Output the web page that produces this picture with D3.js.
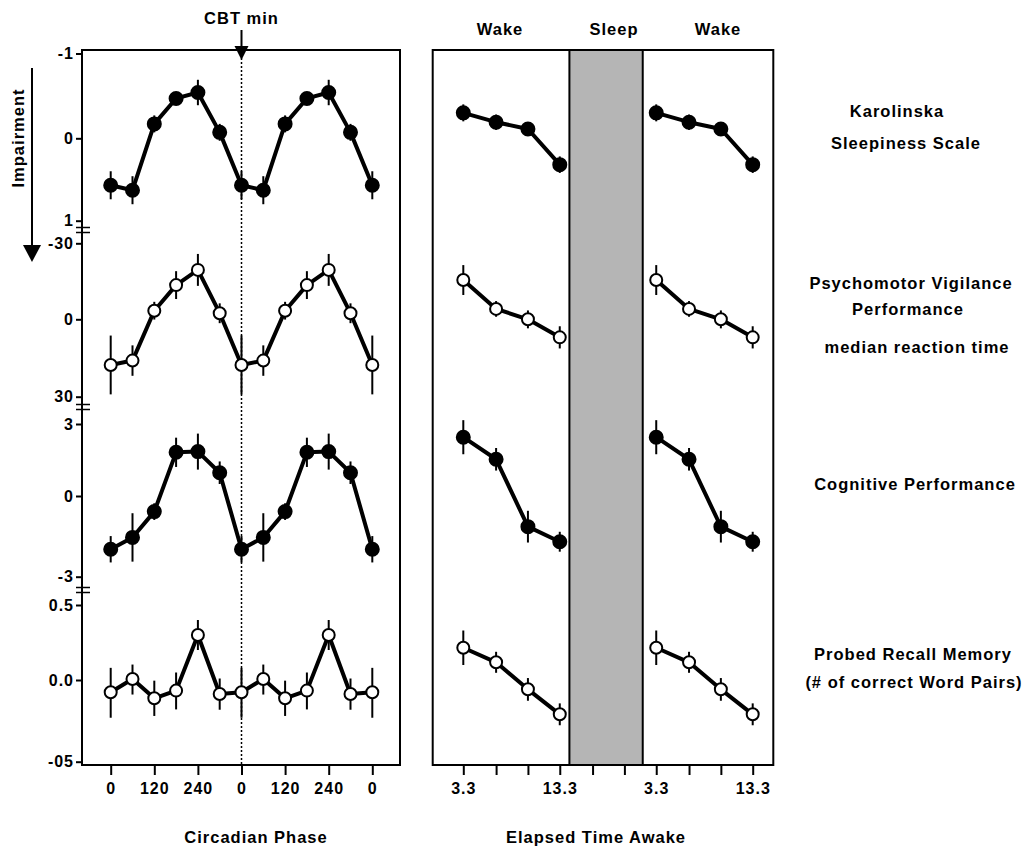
<!DOCTYPE html>
<html>
<head>
<meta charset="utf-8">
<script src="https://cdn.jsdelivr.net/npm/d3@7"></script>
<style>
    body { margin: 0; background: #fff; }
    svg text {
        font-family: "Liberation Sans", Arial, Helvetica, sans-serif;
        font-weight: bold;
        fill: #000;
        letter-spacing: 1px;
    }
</style>
</head>
<body>
<div id="chart"></div>
<script>
// circadian phase (degrees, double plotted)
const phases = [0, 60, 120, 180, 240, 300, 360, 420, 480, 540, 600, 660, 720];
const phaseTicks = [0, 120, 240, 360, 480, 600, 720];
const phaseTickLabels = ["0", "120", "240", "0", "120", "240", "0"];

// elapsed time awake (hours on a running clock, sleep in between)
const awakeTicks = [3.3, 6.7, 10, 13.3, 16.7, 20, 23.3, 26.7, 30, 33.3];
const awakeTickLabels = ["3.3", "", "", "13.3", "", "", "3.3", "", "", "13.3"];
const wake1Hours = [3.3, 6.7, 10, 13.3];
const wake2Hours = [23.3, 26.7, 30, 33.3];
const sleepSpan = [14.3, 21.9];

// Karolinska Sleepiness Scale
const kssPhase = [0.57, 0.63, -0.17, -0.47, -0.54, -0.07, 0.57, 0.63, -0.17, -0.47, -0.54, -0.07, 0.57];
const kssPhaseErr = [0.17, 0.17, 0.10, 0.07, 0.15, 0.10, 0.17, 0.17, 0.10, 0.07, 0.15, 0.10, 0.17];
const kssAwake = [-0.30, -0.19, -0.11, 0.32];
const kssAwakeErr = [0.10, 0.09, 0.05, 0.10];

// Psychomotor vigilance, median reaction time
const pvtPhase = [17.7, 16.0, -3.4, -13.5, -19.5, -2.4, 17.7, 16.0, -3.4, -13.5, -19.5, -2.4, 17.7];
const pvtPhaseErr = [11.4, 5.9, 3.5, 5.5, 6.3, 3.9, 11.4, 5.9, 3.5, 5.5, 6.3, 3.9, 11.4];
const pvtAwake = [-15.5, -4.1, 0.0, 7.0];
const pvtAwakeErr = [5.9, 3.1, 3.5, 4.3];

// Cognitive performance
const cogPhase = [-1.98, -1.54, -0.58, 1.82, 1.85, 0.97, -1.98, -1.54, -0.58, 1.82, 1.85, 0.97, -1.98];
const cogPhaseErr = [0.49, 0.90, 0.31, 0.61, 0.75, 0.47, 0.49, 0.90, 0.31, 0.61, 0.75, 0.47, 0.49];
const cogAwake = [2.45, 1.53, -1.14, -1.70];
const cogAwakeErr = [0.71, 0.47, 0.59, 0.37];

// Probed recall memory
const memPhase = [-0.075, 0.007, -0.112, -0.065, 0.30, -0.086, -0.075, 0.007, -0.112, -0.065, 0.30, -0.086, -0.075];
const memPhaseErr = [0.156, 0.096, 0.108, 0.115, 0.10, 0.096, 0.156, 0.096, 0.108, 0.115, 0.10, 0.096, 0.156];
const memAwake = [0.215, 0.118, -0.057, -0.21];
const memAwakeErr = [0.115, 0.07, 0.07, 0.067];

const measures = [
    { ticks: [-1, 0, 1], labels: ["-1", "0", "1"], range: [53.5, 138.3, 220.7], filled: true,
      phase: kssPhase, phaseErr: kssPhaseErr, awake: kssAwake, awakeErr: kssAwakeErr,
      title: [["Karolinska", 897, 111], ["Sleepiness Scale", 906, 143]] },
    { ticks: [-30, 0, 30], labels: ["-30", "0", "30"], range: [243.3, 319.3, 396.7], filled: false,
      phase: pvtPhase, phaseErr: pvtPhaseErr, awake: pvtAwake, awakeErr: pvtAwakeErr,
      title: [["Psychomotor Vigilance", 911, 283], ["Performance", 908, 309], ["median reaction time", 917, 347]] },
    { ticks: [3, 0, -3], labels: ["3", "0", "-3"], range: [424, 496, 576.7], filled: true,
      phase: cogPhase, phaseErr: cogPhaseErr, awake: cogAwake, awakeErr: cogAwakeErr,
      title: [["Cognitive Performance", 915, 484]] },
    { ticks: [0.5, 0, -0.5], labels: ["0.5", "0.0", "-05"], range: [605, 680, 761.7], filled: false,
      phase: memPhase, phaseErr: memPhaseErr, awake: memAwake, awakeErr: memAwakeErr,
      title: [["Probed Recall Memory", 913, 654], ["(# of correct Word Pairs)", 914, 682]] }
];
const breaks = [230, 407, 590];

const width = 1024, height = 846;
const frameTop = 50, frameBottom = 765;
const left1 = 82, right1 = 400;
const left2 = 432.7, right2 = 773.3;

const svg = d3.select("#chart")
    .append("svg")
    .attr("width", width)
    .attr("height", height);

const xPhase = d3.scaleLinear().domain([0, 720]).range([110.7, 372.3]);
const xAwake = d3.scaleLinear().domain([3.3, 33.3]).range([463.3, 752.7]);

// sleep band
svg.append("rect")
    .attr("x", xAwake(sleepSpan[0]))
    .attr("y", frameTop)
    .attr("width", xAwake(sleepSpan[1]) - xAwake(sleepSpan[0]))
    .attr("height", frameBottom - frameTop)
    .attr("fill", "#b5b5b5")
    .attr("stroke", "#000")
    .attr("stroke-width", 2);

// frames
[[left1, right1], [left2, right2]].forEach(([l, r]) => {
    svg.append("rect")
        .attr("x", l).attr("y", frameTop)
        .attr("width", r - l).attr("height", frameBottom - frameTop)
        .attr("fill", "none")
        .attr("stroke", "#000")
        .attr("stroke-width", 2);
});

// CBT min dotted line + arrow
const cbtX = xPhase(360);
svg.append("line")
    .attr("x1", cbtX).attr("x2", cbtX)
    .attr("y1", 58).attr("y2", frameBottom)
    .attr("stroke", "#000")
    .attr("stroke-width", 1.5)
    .attr("stroke-dasharray", "2,2");
svg.append("line")
    .attr("x1", cbtX).attr("x2", cbtX)
    .attr("y1", 30).attr("y2", 48)
    .attr("stroke", "#000").attr("stroke-width", 2);
svg.append("path")
    .attr("d", `M${cbtX - 7},46 L${cbtX + 7},46 L${cbtX},60 Z`)
    .attr("fill", "#000");
svg.append("text")
    .attr("x", cbtX).attr("y", 24)
    .attr("text-anchor", "middle")
    .style("font-size", "16.5px")
    .text("CBT min");

// Impairment arrow
svg.append("line")
    .attr("x1", 32).attr("x2", 32)
    .attr("y1", 68).attr("y2", 248)
    .attr("stroke", "#000").attr("stroke-width", 2);
svg.append("path")
    .attr("d", "M23,245 L41,245 L32,262 Z")
    .attr("fill", "#000");
svg.append("text")
    .attr("transform", "translate(24,138) rotate(-90)")
    .attr("text-anchor", "middle")
    .style("font-size", "16.5px")
    .text("Impairment");

// x axes
const phaseAxis = svg.append("g")
    .attr("transform", `translate(0,${frameBottom})`)
    .call(d3.axisBottom(xPhase).tickValues(phaseTicks)
        .tickFormat((d, i) => phaseTickLabels[i])
        .tickSizeInner(10).tickSizeOuter(0).tickPadding(8));
const awakeAxis = svg.append("g")
    .attr("transform", `translate(0,${frameBottom})`)
    .call(d3.axisBottom(xAwake).tickValues(awakeTicks)
        .tickFormat((d, i) => awakeTickLabels[i])
        .tickSizeInner(10).tickSizeOuter(0).tickPadding(8));
[phaseAxis, awakeAxis].forEach(a => {
    a.select(".domain").remove();
    a.selectAll(".tick line").attr("stroke-width", 2);
    a.selectAll("text").style("font-size", "16px");
    a.attr("font-family", null).attr("font-size", null);
});

// axis titles
svg.append("text").attr("x", 256).attr("y", 843)
    .attr("text-anchor", "middle").style("font-size", "16.5px").text("Circadian Phase");
svg.append("text").attr("x", 596).attr("y", 843)
    .attr("text-anchor", "middle").style("font-size", "16.5px").text("Elapsed Time Awake");

// Wake / Sleep headers
[["Wake", 500], ["Sleep", 614], ["Wake", 718]].forEach(([t, x]) => {
    svg.append("text").attr("x", x).attr("y", 35)
        .attr("text-anchor", "middle").style("font-size", "16.5px").text(t);
});

function drawSeries(xs, vals, errs, y, filled) {
    const pts = xs.map((x, i) => ({ x: x, v: vals[i], e: errs[i] }));
    const g = svg.append("g");
    g.selectAll(".err")
        .data(pts)
        .enter()
        .append("line")
        .attr("x1", d => d.x).attr("x2", d => d.x)
        .attr("y1", d => y(d.v - d.e)).attr("y2", d => y(d.v + d.e))
        .attr("stroke", "#000")
        .attr("stroke-width", 2);
    g.append("path")
        .datum(pts)
        .attr("d", d3.line().x(d => d.x).y(d => y(d.v)))
        .attr("fill", "none")
        .attr("stroke", "#000")
        .attr("stroke-width", 4)
        .attr("stroke-linejoin", "round");
    g.selectAll(".pt")
        .data(pts)
        .enter()
        .append("circle")
        .attr("cx", d => d.x)
        .attr("cy", d => y(d.v))
        .attr("r", filled ? 6.5 : 6)
        .attr("fill", filled ? "#000" : "#fff")
        .attr("stroke", "#000")
        .attr("stroke-width", 2);
}

measures.forEach(m => {
    const y = d3.scaleLinear().domain(m.ticks).range(m.range);

    const ax = svg.append("g")
        .attr("transform", `translate(${left1},0)`)
        .call(d3.axisLeft(y).tickValues(m.ticks)
            .tickFormat((d, i) => m.labels[i])
            .tickSizeInner(6).tickSizeOuter(0).tickPadding(2));
    ax.select(".domain").remove();
    ax.selectAll(".tick line").attr("stroke-width", 2);
    ax.selectAll("text").style("font-size", "16px");
    ax.attr("font-family", null).attr("font-size", null);

    drawSeries(phases.map(p => xPhase(p)), m.phase, m.phaseErr, y, m.filled);
    // same wake-day curve shown for both wake episodes
    drawSeries(wake1Hours.map(h => xAwake(h)), m.awake, m.awakeErr, y, m.filled);
    drawSeries(wake2Hours.map(h => xAwake(h)), m.awake, m.awakeErr, y, m.filled);

    m.title.forEach(([t, x, yy]) => {
        svg.append("text")
            .attr("x", x).attr("y", yy)
            .attr("dy", "0.35em")
            .attr("text-anchor", "middle")
            .style("font-size", "16.5px")
            .text(t);
    });
});

// axis break marks
breaks.forEach(b => {
    [-2.5, 2.5].forEach(o => {
        svg.append("line")
            .attr("x1", left1 - 6).attr("x2", left1 + 8)
            .attr("y1", b + o).attr("y2", b + o)
            .attr("stroke", "#000")
            .attr("stroke-width", 1.5);
    });
});
</script>
</body>
</html>
